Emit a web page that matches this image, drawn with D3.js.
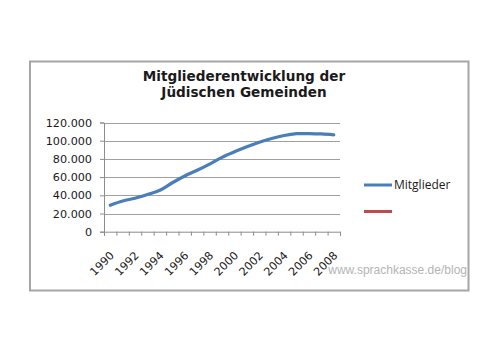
<!DOCTYPE html>
<html lang="de">
<head>
<meta charset="UTF-8">
<script src="https://d3js.org/d3.v7.min.js"></script>
<title>Mitgliederentwicklung</title>
<style>
  body { margin:0; background:#fff; }
  svg { display:block; }
</style>
</head>
<body>
<script>
  // data
  var years = [1990,1991,1992,1993,1994,1995,1996,1997,1998,1999,2000,2001,2002,2003,2004,2005,2006,2007,2008];
  var members = [29089,33692,36804,40917,45559,53797,61203,67471,74289,81739,87756,93326,98335,102472,105733,107700,107800,107400,106400];
  var yTicks = [0,20000,40000,60000,80000,100000,120000];
  var xLabels = [1990,1992,1994,1996,1998,2000,2002,2004,2006,2008];
  var titleLines = ["Mitgliederentwicklung der","Jüdischen Gemeinden"];
  var legendItems = [{name:"Mitglieder", color:"#4a7ebb"}, {name:"", color:"#be4b48"}];

  var width = 500, height = 353;
  var pLeft = 104, pRight = 340, pTop = 122.5, pBottom = 231.7;

  var svg = d3.select("body").append("svg").attr("width",width).attr("height",height);

  // outer frame
  svg.append("rect").attr("x",30).attr("y",61.5).attr("width",438.5).attr("height",229)
     .attr("fill","#fff").attr("stroke","#a6a6a6").attr("stroke-width",2);

  var x = d3.scaleBand().domain(years).range([pLeft,pRight]);
  var y = d3.scaleLinear().domain([0,120000]).range([pBottom,pTop]);

  // title
  svg.append("text").attr("x",244).attr("y",81).attr("text-anchor","middle")
     .style("font-family","DejaVu Sans").style("font-weight","bold").style("font-size","13.6px").style("fill","#1a1a1a")
     .selectAll("tspan").data(titleLines).join("tspan")
     .attr("x",244).attr("dy",(d,i)=> i==0 ? 0 : 16).text(d=>d);

  // grid
  svg.append("g").selectAll("line").data(yTicks.slice(1)).join("line")
     .attr("x1",pLeft).attr("x2",pRight).attr("y1",d=>Math.round(y(d))+0.5).attr("y2",d=>Math.round(y(d))+0.5)
     .attr("stroke","#a0a0a0").attr("stroke-width",1);

  // y axis
  var yaxis = d3.axisLeft(y).tickValues(yTicks).tickSize(4).tickPadding(8)
               .tickFormat(d=>d3.format(",")(d).replace(/,/g,"."));
  var gy = svg.append("g").attr("transform","translate("+pLeft+",0)").call(yaxis);
  gy.selectAll("line,path").attr("stroke","#8c8c8c");
  gy.selectAll("text").style("font-family","DejaVu Sans").style("font-size","11.2px").attr("fill","#1a1a1a");

  // x axis (ticks between categories)
  var xaxis = d3.axisBottom(d3.scaleLinear().domain([0,years.length]).range([pLeft,pRight]))
               .tickValues(d3.range(years.length+1)).tickSize(4).tickFormat("");
  var gx = svg.append("g").attr("transform","translate(0,"+pBottom+")").call(xaxis);
  gx.selectAll("line,path").attr("stroke","#8c8c8c");

  svg.append("g").selectAll("text").data(xLabels).join("text")
     .attr("transform",d=>"translate("+(x(d)+x.bandwidth()/2-1)+","+(pBottom+19)+") rotate(-45)")
     .attr("text-anchor","end").attr("dy","0.7em")
     .style("font-family","DejaVu Sans").style("font-size","11.2px").attr("fill","#1a1a1a")
     .text(d=>d);

  // line
  var line = d3.line().x((d,i)=>x(years[i])+x.bandwidth()/2).y(d=>y(d)).curve(d3.curveCatmullRom);
  svg.append("path").attr("d",line(members)).attr("fill","none")
     .attr("stroke","#4a7ebb").attr("stroke-width",3.2).attr("stroke-linecap","round");

  // legend
  var lg = svg.append("g").selectAll("g").data(legendItems).join("g")
     .attr("transform",(d,i)=>"translate(364,"+(185+i*26.5)+")");
  lg.append("line").attr("x1",0).attr("x2",28).attr("stroke",d=>d.color).attr("stroke-width",3);
  lg.append("text").attr("x",30).attr("dy","0.35em")
     .style("font-family","Open Sans").style("font-size","12px").attr("fill","#1a1a1a").text(d=>d.name);

  // watermark
  svg.append("text").attr("x",467).attr("y",274).attr("text-anchor","end")
     .style("font-family","Liberation Sans").style("font-size","12px").attr("fill","#b4b4b4")
     .text("www.sprachkasse.de/blog");
</script>
</body>
</html>
